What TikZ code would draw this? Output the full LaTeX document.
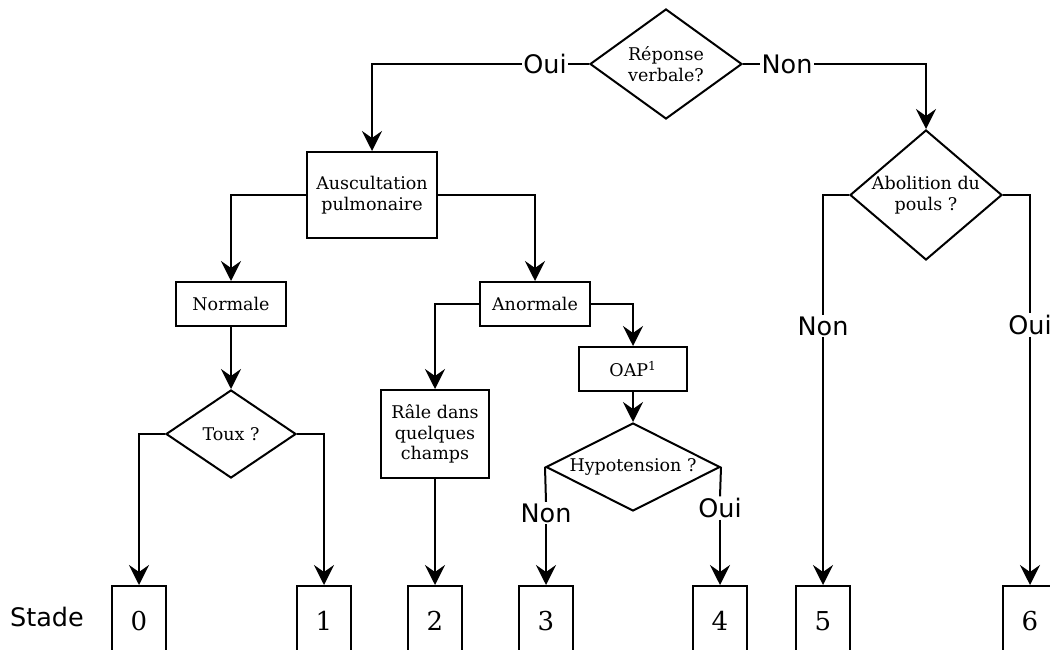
\documentclass[tikz,border=0pt]{standalone}
\usepackage{fontspec}
\setmainfont{DejaVu Serif}
\newfontfamily\lblfont{DejaVu Sans}
\usetikzlibrary{shapes.geometric,arrows.meta}
\begin{document}
\begin{tikzpicture}[x=1pt,y=-1pt,
  every node/.style={inner sep=0pt},
  line/.style={line width=2pt},
  arr/.style={line width=2pt,-{Stealth[length=20pt 0 0,width=20pt 0,inset=7pt 0]}},
  txt/.style={font=\fontsize{17.5}{20.5}\selectfont,align=center},
  box/.style={txt,draw,line width=2pt,rectangle},
  decide/.style={txt,draw,line width=2pt,diamond},
  lab/.style={font=\lblfont\fontsize{25.5}{28}\selectfont,inner sep=1.5pt},
  stagebox/.style={draw,line width=2pt,rectangle,minimum width=54pt,minimum height=70pt,font=\fontsize{26}{28}\selectfont}
]
\path[use as bounding box,clip] (0,0) rectangle (1050,650);

% decisions
\node[decide,shape aspect=1.4,minimum width=152pt,minimum height=110pt] (q1) at (666,64) {Réponse\\verbale?};
\node[decide,shape aspect=1.15,inner xsep=-3pt,inner ysep=-3pt,minimum width=152pt,minimum height=130pt] (abol) at (926,195) {Abolition du\\pouls ?};
\node[decide,shape aspect=1.5,minimum width=130pt,minimum height=88pt] (toux) at (231,434) {Toux ?};
\node[decide,shape aspect=2,minimum width=174pt,minimum height=88pt] (hypo) at (633,467) {Hypotension ?};

% boxes
\node[box,minimum width=130pt,minimum height=86pt] (ausc) at (372,195) {Auscultation\\pulmonaire};
\node[box,minimum width=110pt,minimum height=44pt] (norm) at (231,304) {Normale};
\node[box,minimum width=110pt,minimum height=44pt] (anorm) at (535,304) {Anormale};
\node[box,minimum width=108pt,minimum height=44pt] (oap) at (633,369) {OAP\textsuperscript{1}};
\node[box,minimum width=108pt,minimum height=88pt] (rale) at (435,434) {Râle dans\\quelques\\champs};

% stage boxes
\node[lab] (stade) at (47,617) {Stade};
\node[stagebox] (s0) at (139,621) {0};
\node[stagebox] (s1) at (324,621) {1};
\node[stagebox] (s2) at (435,621) {2};
\node[stagebox] (s3) at (546,621) {3};
\node[stagebox] (s4) at (720,621) {4};
\node[stagebox] (s5) at (823,621) {5};
\node[stagebox] (s6) at (1030,621) {6};

% labels
\node[lab] (oui1) at (545,64) {Oui};
\node[lab] (non1) at (787,64) {Non};
\node[lab] (non2) at (823,326) {Non};
\node[lab] (oui2) at (1030,325) {Oui};
\node[lab] (non3) at (546,513) {Non};
\node[lab] (oui3) at (720,508) {Oui};

% connectors
\draw[line] (q1.west) -- (oui1.east);
\draw[arr] (oui1.west) -| (ausc.north);
\draw[line] (q1.east) -- (non1.west);
\draw[arr] (non1.east) -| (abol.north);

\draw[arr] (ausc.west) -| (norm.north);
\draw[arr] (ausc.east) -| (anorm.north);
\draw[arr] (norm.south) -- (toux.north);
\draw[arr] (anorm.west) -| (rale.north);
\draw[arr] (anorm.east) -| (oap.north);
\draw[arr] (oap.south) -- (hypo.north);

\draw[arr] (toux.west) -| (s0.north);
\draw[arr] (toux.east) -| (s1.north);
\draw[arr] (rale.south) -- (s2.north);

\draw[line] (hypo.west) -- (non3.north);
\draw[arr] (non3.south) -- (s3.north);
\draw[line] (hypo.east) -- (oui3.north);
\draw[arr] (oui3.south) -- (s4.north);

\draw[line] (abol.west) -| (non2.north);
\draw[arr] (non2.south) -- (s5.north);
\draw[line] (abol.east) -| (oui2.north);
\draw[arr] (oui2.south) -- (s6.north);
\end{tikzpicture}
\end{document}
